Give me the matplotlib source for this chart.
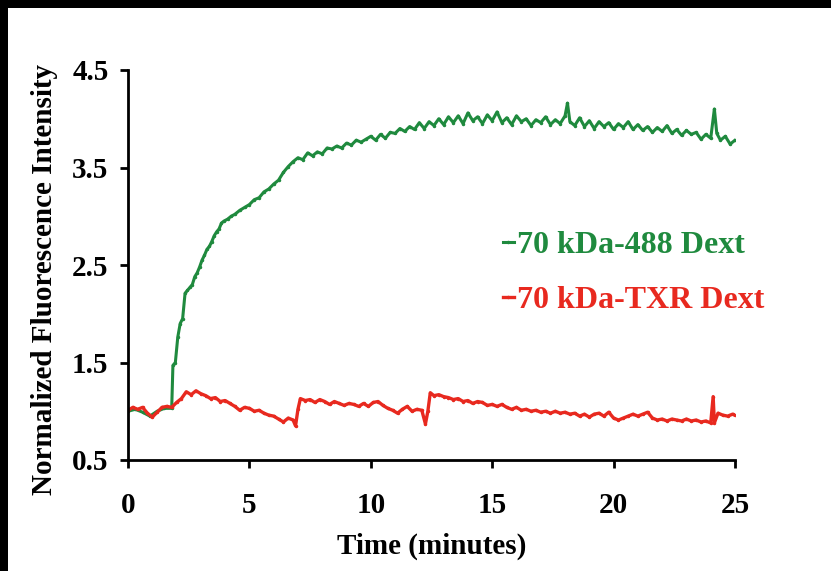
import matplotlib
matplotlib.use("Agg")
import matplotlib.pyplot as plt
from matplotlib.patches import Rectangle

# time (minutes) and intensity
green_time = [0.0, 0.3, 0.6, 0.9, 1.2, 1.5, 1.8, 1.85, 1.95, 2.05, 2.15, 2.25, 2.35, 2.45,
              2.55, 2.65, 2.75, 2.85, 2.95, 3.05, 3.15, 3.25, 3.35, 3.45, 3.55, 3.65, 3.75,
              3.85, 3.95, 4.1, 4.25, 4.4, 4.6, 4.8, 5.0, 5.2, 5.4, 5.6, 5.8, 6.0, 6.2, 6.4,
              6.6, 6.8, 7.0, 7.2, 7.4, 7.6, 7.8, 8.0, 8.2, 8.4, 8.6, 8.8, 9.0, 9.2, 9.4, 9.6,
              9.8, 10.0, 10.2, 10.4, 10.6, 10.8, 11.0, 11.2, 11.4, 11.6, 11.8, 12.0, 12.2,
              12.4, 12.6, 12.8, 13.0, 13.2, 13.4, 13.6, 13.8, 14.0, 14.2, 14.4, 14.6, 14.8,
              15.0, 15.2, 15.4, 15.6, 15.8, 16.0, 16.2, 16.4, 16.6, 16.8, 17.0, 17.2, 17.4,
              17.6, 17.8, 18.0, 18.1, 18.2, 18.4, 18.6, 18.8, 19.0, 19.2, 19.4, 19.6, 19.8,
              20.0, 20.2, 20.4, 20.6, 20.8, 21.0, 21.2, 21.4, 21.6, 21.8, 22.0, 22.2, 22.4,
              22.6, 22.8, 23.0, 23.2, 23.4, 23.6, 23.8, 24.0, 24.15, 24.25, 24.4, 24.6, 24.8,
              25.0]
green_488 = [1.00, 1.02, 0.99, 0.95, 1.00, 1.03, 1.03, 1.47, 1.50, 1.76, 1.90, 1.95, 2.21, 2.24,
             2.27, 2.30, 2.38, 2.42, 2.48, 2.55, 2.60, 2.66, 2.69, 2.74, 2.80, 2.84, 2.87,
             2.93, 2.95, 2.97, 3.00, 3.02, 3.06, 3.09, 3.12, 3.17, 3.19, 3.25, 3.28, 3.33, 3.37, 3.45,
             3.51, 3.56, 3.60, 3.58, 3.65, 3.62, 3.66, 3.64, 3.70, 3.69, 3.72, 3.70, 3.75, 3.73, 3.78, 3.76,
             3.79, 3.82, 3.78, 3.84, 3.80, 3.86, 3.85, 3.90, 3.87, 3.92, 3.89, 3.96, 3.90,
             3.97, 3.93, 4.00, 3.94, 4.02, 3.96, 4.03, 3.95, 4.06, 3.98, 4.02, 3.95, 4.04,
             3.98, 4.07, 3.96, 4.01, 3.94, 4.03, 3.97, 4.00, 3.93, 3.99, 3.96, 4.02, 3.94,
             3.99, 3.95, 4.03, 4.16, 3.97, 3.93, 4.01, 3.92, 3.98, 3.90, 3.97, 3.92, 3.96,
             3.89, 3.95, 3.91, 3.97, 3.89, 3.94, 3.88, 3.92, 3.86, 3.91, 3.87, 3.93, 3.85,
             3.89, 3.83, 3.88, 3.84, 3.86, 3.79, 3.84, 3.80, 4.10, 3.85, 3.78, 3.82, 3.74,
             3.78]

red_time = [0.0, 0.2, 0.4, 0.6, 0.8, 1.0, 1.2, 1.4, 1.6, 1.8, 2.0, 2.2, 2.4, 2.6, 2.8, 3.0,
            3.2, 3.4, 3.6, 3.8, 4.0, 4.2, 4.4, 4.6, 4.8, 5.0, 5.2, 5.4, 5.6, 5.8, 6.0, 6.2,
            6.4, 6.6, 6.8, 6.9, 7.0, 7.1, 7.3, 7.5, 7.7, 7.9, 8.1, 8.3, 8.5, 8.7, 8.9, 9.1,
            9.3, 9.5, 9.7, 9.9, 10.1, 10.3, 10.5, 10.7, 10.9, 11.1, 11.3, 11.5, 11.7, 11.9,
            12.1, 12.25, 12.35, 12.45, 12.6, 12.8, 13.0, 13.2, 13.4, 13.6, 13.8, 14.0, 14.2,
            14.4, 14.6, 14.8, 15.0, 15.2, 15.4, 15.6, 15.8, 16.0, 16.2, 16.4, 16.6, 16.8,
            17.0, 17.2, 17.4, 17.6, 17.8, 18.0, 18.2, 18.4, 18.6, 18.8, 19.0, 19.2, 19.4,
            19.6, 19.8, 20.0, 20.2, 20.4, 20.6, 20.8, 21.0, 21.2, 21.4, 21.6, 21.8, 22.0,
            22.2, 22.4, 22.6, 22.8, 23.0, 23.2, 23.4, 23.6, 23.8, 24.0, 24.1, 24.15, 24.3,
            24.5, 24.7, 24.9, 25.0]
red_txr = [1.01, 1.04, 1.02, 1.04, 0.98, 0.94, 0.99, 1.04, 1.05, 1.04, 1.09, 1.13, 1.20, 1.17, 1.21, 1.18,
           1.16, 1.13, 1.14, 1.10, 1.11, 1.08, 1.05, 1.01, 1.04, 1.03, 1.00, 1.01, 0.98, 0.96, 0.95, 0.92,
           0.89, 0.93, 0.91, 0.85, 1.02, 1.13, 1.11, 1.12, 1.09, 1.12, 1.10, 1.07, 1.10, 1.08, 1.06, 1.08,
           1.07, 1.05, 1.08, 1.05, 1.09, 1.10, 1.06, 1.03, 1.01, 0.98, 1.02, 1.05, 1.00, 1.02,
           1.01, 0.87, 1.00, 1.19, 1.16, 1.17, 1.15, 1.14, 1.12, 1.13, 1.10, 1.11, 1.08,
           1.10, 1.09, 1.06, 1.07, 1.05, 1.07, 1.04, 1.02, 1.04, 1.01, 1.02, 1.00, 1.01,
           0.99, 1.00, 0.98, 1.00, 0.98, 0.99, 0.97, 0.98, 0.95, 0.97, 0.94, 0.97, 0.98,
           0.95, 0.99, 0.93, 0.91, 0.93, 0.95, 0.97, 0.95, 0.97, 0.99, 0.93, 0.91, 0.92,
           0.90, 0.92, 0.91, 0.90, 0.92, 0.90, 0.91, 0.89, 0.90, 0.88, 1.15, 0.88, 0.98,
           0.96, 0.95, 0.97, 0.96]

green_label = "70 kDa-488 Dext"
red_label = "70 kDa-TXR Dext"
x_ticks = [0, 5, 10, 15, 20, 25]
y_ticks = [0.5, 1.5, 2.5, 3.5, 4.5]

green = "#1f8a3e"
red = "#e8291f"

plt.rcParams["font.family"] = ["Liberation Serif", "DejaVu Serif"]
plt.rcParams["font.weight"] = "bold"

fig = plt.figure(figsize=(8.31, 5.71), dpi=100)
fig.patch.set_facecolor("black")
# white panel sitting on the black background
panel = Rectangle((8 / 831, 0), 1, 1 - 8 / 571, transform=fig.transFigure,
                  facecolor="white", edgecolor="none", zorder=-1)
fig.add_artist(panel)

ax = fig.add_axes([128 / 831, 1 - 460 / 571, 607 / 831, 390 / 571])
ax.set_facecolor("none")
ax.set_zorder(1)

ax.plot(green_time, green_488, color=green, linewidth=2.2, marker=".", markersize=3,
        label=green_label)
ax.plot(red_time, red_txr, color=red, linewidth=2.4, marker=".", markersize=3,
        label=red_label)

ax.set_xlim(0, 25)
ax.set_ylim(0.5, 4.5)
ax.set_xticks(x_ticks)
ax.set_yticks(y_ticks)
ax.set_xticklabels([str(t) for t in x_ticks])
ax.set_yticklabels([str(t) for t in y_ticks])

for side in ["top", "right"]:
    ax.spines[side].set_visible(False)
for side in ["left", "bottom"]:
    ax.spines[side].set_linewidth(2)
ax.tick_params(axis="both", direction="out", length=6, width=2, labelsize=21)
ax.tick_params(axis="x", pad=17)
ax.tick_params(axis="y", pad=8)

ax.set_xlabel("Time (minutes)", fontsize=21, fontweight="bold", labelpad=10)
ax.set_ylabel("Normalized Fluorescence Intensity", fontsize=21, fontweight="bold")
# the y label sits a bit lower than the middle of the axis in the original
ax.yaxis.set_label_coords(-0.115, 0.462)

leg = ax.legend(loc="upper left", bbox_to_anchor=(0.617, 0.588), frameon=False,
                handlelength=0.35, handletextpad=0.1, labelspacing=0.8, borderpad=0,
                borderaxespad=0, labelcolor="linecolor",
                prop={"family": "Liberation Serif", "weight": "bold", "size": 23})

fig.savefig("out.png", dpi=100, facecolor=fig.get_facecolor())
